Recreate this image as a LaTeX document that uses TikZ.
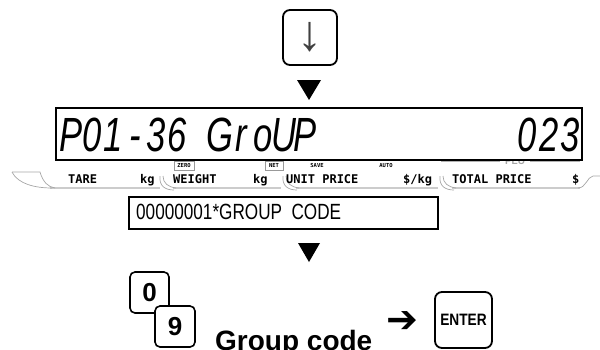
\documentclass[tikz,border=0pt]{standalone}
\usepackage{fontspec}
\usepackage{graphicx}
\setmainfont{Liberation Sans}
\newfontfamily\monob{DejaVu Sans Mono}
\newfontfamily\djv{DejaVu Sans}
\newcommand\segc[1]{\makebox[29.6pt]{#1}}
\begin{document}
\begin{tikzpicture}[x=1pt,y=-1pt,
  keybox/.style={draw, line width=1.8pt, rounded corners=7pt, fill=white, inner sep=0pt},
  lbl/.style={font=\monob\bfseries\fontsize{12}{12}\selectfont, inner sep=0pt, anchor=base west},
  tinylbl/.style={font=\monob\bfseries\fontsize{5.5}{6}\selectfont, inner sep=0pt},
  tinybox/.style={draw=gray!80, line width=0.6pt, inner sep=0pt, minimum height=9pt},
  barline/.style={draw=gray!40, line width=2.6pt},
  curveline/.style={draw=gray!70, line width=0.7pt},
  segtext/.style={font=\itshape\fontsize{48}{48}\selectfont, inner sep=0pt}
]
\useasboundingbox (0,0) rectangle (600,349);

% down key
\node[keybox, minimum width=54pt, minimum height=55pt] (down) at (310,37.5)
  {\color{black!75}\fontsize{50}{50}\selectfont ↓};

% triangle 1
\coordinate (t1) at (309,80);
\fill (t1) ++(-12,0) -- ++(24,0) -- ++(-12,20) -- cycle;

% PLU line
\draw[gray!60, line width=1.2pt] (442,157) -- (442,161) -- (500,161);
\draw[gray!60, line width=1.2pt] (530,161) -- (579,161) -- (579,157);
\node[font=\bfseries\fontsize{10}{10}\selectfont, text=gray!70, inner sep=0pt] (plu) at (515,161.5) {PLU};

% LCD
\node[draw, line width=1.6pt, fill=white, minimum width=526pt, minimum height=52pt, inner sep=0pt] (lcd) at (319,134) {};
\node[segtext, anchor=west] (seg1) at (60,135)
  {\scalebox{0.72}[1]{\segc{P}\segc{0}\segc{1}\segc{-}\segc{3}\segc{6}\segc{ }\segc{G}\segc{r}\segc{o}\segc{U}\segc{P}}};
\node[segtext, anchor=east] (seg2) at (581,135)
  {\scalebox{0.72}[1]{\segc{0}\segc{2}\segc{3}}};

% annotation bar
\draw[barline] (50,188) -- (160,188);
\draw[barline] (173,188) -- (281,188);
\draw[barline] (296,188) -- (438,188);
\draw[barline] (452,188) -- (580,188);
\draw[curveline] (12,172) -- (40,172) .. controls (43,182) and (48,187) .. (55,188);
\draw[curveline] (12,172) .. controls (18,184) and (35,188) .. (52,188);
\draw[curveline] (163,176) .. controls (163,183) and (168,187) .. (176,188);
\draw[curveline] (160,176) .. controls (159,186) and (165,190) .. (174,190);
\draw[curveline] (286,176) .. controls (286,183) and (291,187) .. (299,188);
\draw[curveline] (283,176) .. controls (282,186) and (288,190) .. (297,190);
\draw[curveline] (443,176) .. controls (443,183) and (448,187) .. (456,188);
\draw[curveline] (440,176) .. controls (439,186) and (445,190) .. (454,190);
\draw[curveline] (578,188) .. controls (586,188) and (587,177) .. (593,176) -- (600,176);

\node[lbl] (tare) at (68,183) {TARE};
\node[lbl] (kg1) at (140,183) {kg};
\node[lbl] (weight) at (173,183) {WEIGHT};
\node[lbl] (kg2) at (253,183) {kg};
\node[lbl] (unit) at (286,183) {UNIT PRICE};
\node[lbl] (perkg) at (403,183) {\$/kg};
\node[lbl] (total) at (452,183) {TOTAL PRICE};
\node[lbl] (dollar) at (572,183) {\$};

\node[tinybox, tinylbl, minimum width=20pt] (zero) at (184,165.5) {ZERO};
\node[tinybox, tinylbl, minimum width=18pt] (net) at (274,165.5) {NET};
\node[tinylbl] (save) at (317,165) {SAVE};
\node[tinylbl] (auto) at (386,165) {AUTO};

% message box
\node[draw, line width=1.5pt, minimum width=309pt, minimum height=32pt, anchor=north west, inner sep=0pt] (msg) at (128,196) {};
\node[anchor=west, inner sep=0pt, font=\fontsize{22}{22}\selectfont] (msgtext) at (136,212)
  {\scalebox{0.78}[1]{00000001*GROUP\hspace{6pt} CODE}};

% triangle 2
\coordinate (t2) at (309,243);
\fill (t2) ++(-11,0) -- ++(22,0) -- ++(-11,19) -- cycle;

% bottom keys
\node[keybox, line width=1.6pt, rounded corners=5pt, minimum width=39pt, minimum height=41pt,
  font=\bfseries\fontsize{26}{26}\selectfont] (k0) at (149.5,292.5) {0};
\node[keybox, line width=1.6pt, rounded corners=5pt, minimum width=40pt, minimum height=41pt,
  font=\bfseries\fontsize{26}{26}\selectfont] (k9) at (175,326.5) {9};
\node[anchor=base west, inner sep=0pt, font=\bfseries\fontsize{28}{28}\selectfont] (gc) at (215,350) {Group code};
\node[inner sep=0pt, font=\djv\bfseries\fontsize{38}{38}\selectfont] (arr) at (402,322) {➔};
\node[keybox, minimum width=57pt, minimum height=56pt] (enter) at (463.5,320)
  {\bfseries\fontsize{16.5}{16.5}\selectfont\scalebox{0.83}[1]{ENTER}};
\end{tikzpicture}
\end{document}
